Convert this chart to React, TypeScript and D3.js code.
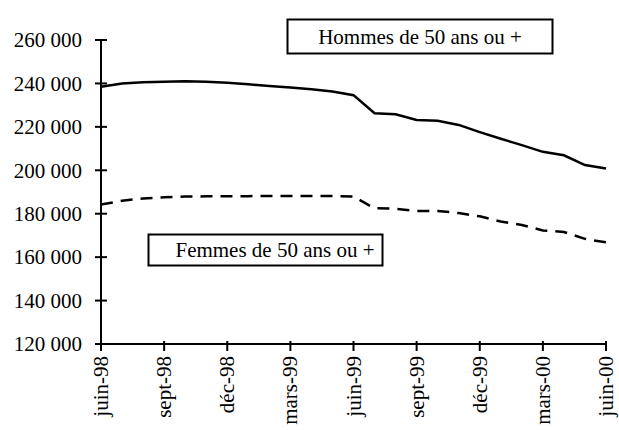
import * as d3 from "d3";

// monthly values, juin-98 .. juin-00
const months = [
  "juin-98", "juil-98", "août-98", "sept-98", "oct-98", "nov-98", "déc-98",
  "janv-99", "févr-99", "mars-99", "avr-99", "mai-99", "juin-99",
  "juil-99", "août-99", "sept-99", "oct-99", "nov-99", "déc-99",
  "janv-00", "févr-00", "mars-00", "avr-00", "mai-00", "juin-00",
];
const hommes = [
  238500, 240000, 240500, 240800, 241000, 240800, 240300,
  239600, 238800, 238100, 237300, 236300, 234600,
  226300, 225800, 223200, 222800, 220900, 217600,
  214500, 211600, 208500, 206900, 202400, 200800,
];
const femmes = [
  184200, 186000, 187000, 187600, 187900, 188000, 188000,
  188100, 188200, 188200, 188200, 188200, 187900,
  182500, 182300, 181300, 181300, 180300, 178800,
  176400, 174800, 172300, 171600, 168400, 166800,
];
const tickLabels = ["juin-98", "sept-98", "déc-98", "mars-99", "juin-99", "sept-99", "déc-99", "mars-00", "juin-00"];
const yTicks = [120000, 140000, 160000, 180000, 200000, 220000, 240000, 260000];

const W = 619;
const H = 430;
const font = "'Liberation Serif', 'Times New Roman', serif";

export default function App() {
  const x = d3.scalePoint<string>().domain(months).range([101, 606]);
  const y = d3.scaleLinear().domain([120000, 260000]).range([344, 40]);
  const fmt = (v: number) => d3.format(",")(v).replace(/,/g, " ");

  const line = d3
    .line<number>()
    .x((_, i) => x(months[i])!)
    .y((d) => y(d));

  return (
    <svg width={W} height={H} style={{ position: "absolute", left: 0, top: 0, background: "#fff" }}>
      {/* y axis */}
      <line x1={101} x2={101} y1={y(260000)} y2={y(120000)} stroke="#000" strokeWidth={2} />
      {yTicks.map((t) => (
        <g key={t}>
          <line x1={95} x2={107} y1={y(t)} y2={y(t)} stroke="#000" strokeWidth={2} />
          <text x={82} y={y(t)} dy="0.35em" textAnchor="end" fontFamily={font} fontSize={21}>
            {fmt(t)}
          </text>
        </g>
      ))}
      {/* x axis */}
      <line x1={101} x2={606} y1={344} y2={344} stroke="#000" strokeWidth={2} />
      {tickLabels.map((m) => (
        <g key={m}>
          <line x1={x(m)} x2={x(m)} y1={341} y2={351} stroke="#000" strokeWidth={2} />
          <text
            transform={`translate(${x(m)! + 7},356) rotate(-90)`}
            textAnchor="end"
            fontFamily={font}
            fontSize={21}
          >
            {m}
          </text>
        </g>
      ))}
      {/* series */}
      <path d={line(hommes)!} fill="none" stroke="#000" strokeWidth={2.5} />
      <path d={line(femmes)!} fill="none" stroke="#000" strokeWidth={2.5} strokeDasharray="12,8" />
      {/* legends */}
      <rect x={287.5} y={19.5} width={265} height={34} fill="#fff" stroke="#000" strokeWidth={2} />
      <text x={420} y={44} textAnchor="middle" fontFamily={font} fontSize={21}>
        Hommes de 50 ans ou +
      </text>
      <rect x={148.5} y={234.5} width={234} height={31} fill="#fff" stroke="#000" strokeWidth={2} />
      <text x={275} y={257} textAnchor="middle" fontFamily={font} fontSize={21}>
        Femmes de 50 ans ou +
      </text>
    </svg>
  );
}
